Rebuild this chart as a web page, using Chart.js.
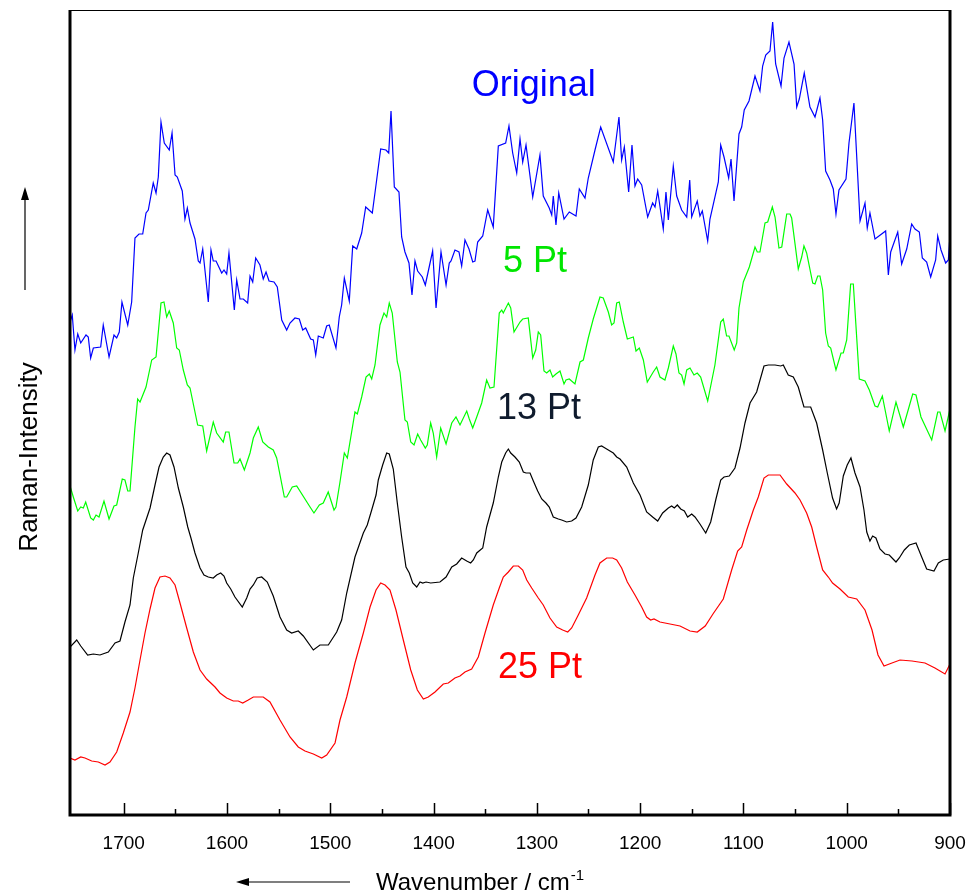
<!DOCTYPE html>
<html>
<head>
<meta charset="utf-8">
<script src="https://cdn.jsdelivr.net/npm/chart.js@4.4.0/dist/chart.umd.min.js"></script>
<style>
  html, body { margin: 0; padding: 0; background: #fff; }
</style>
</head>
<body>
<canvas id="raman" width="978" height="893"></canvas>
<script>
// Raman spectrum, raw and after 5 / 13 / 25 point smoothing (intensities offset, arbitrary units)
const originalWn = [1752,1749.8,1747.2,1744.5,1741.6,1736.5,1734.3,1732,1729.4,1722.3,
  1719.8,1714.2,1709.4,1706.8,1704.3,1701.7,1696.1,1692.3,1689.1,1685.2,
  1681.6,1678.4,1676.2,1671.4,1668.7,1666.5,1663.9,1660.7,1655.9,1653.2,
  1650.3,1648.1,1643.3,1640.7,1638.4,1635.8,1631,1627.8,1626.1,1623.5,
  1618.1,1615.5,1613.3,1610.6,1605.1,1602.9,1600.3,1598.1,1592.9,1590.6,
  1587.4,1584.2,1580,1577.7,1575.1,1572.2,1568.1,1564.9,1562.2,1559.3,
  1554.5,1551.3,1547,1542.2,1539,1534.2,1530,1526.7,1523.8,1519,
  1516.4,1514.1,1511.6,1506.8,1503.5,1501,1494.5,1491.3,1489,1486.4,
  1481.6,1478.3,1474.4,1469.6,1465.7,1459.3,1455.1,1451.2,1446.1,1443.4,
  1441.2,1438,1433.5,1430.9,1427.7,1423.8,1420.9,1418,1415.4,1410.9,
  1408,1400.9,1397.6,1392.8,1387.9,1384.8,1383.1,1379.3,1375.4,1372.8,
  1369.6,1365.7,1362.1,1359.9,1357.3,1352.4,1347.6,1342.2,1337.3,1330.2,
  1327,1323.4,1319.5,1316.3,1313.7,1310.5,1304,1297,1293.8,1288,
  1285.6,1284.1,1281.5,1278.8,1273.7,1268.6,1262.1,1258.9,1253.4,1250.2,
  1243.7,1238.2,1226,1220.5,1217.9,1215.3,1211.1,1207.9,1205,1202.4,
  1198.5,1192.7,1187.9,1185.6,1183,1177.6,1175,1172.7,1167.9,1164.6,
  1159.8,1154.9,1152,1150.1,1144.7,1142.1,1139.8,1134.6,1132.4,1124.3,
  1122,1118.8,1114.3,1112,1109.1,1104.3,1101.7,1099.2,1094.6,1088.8,
  1084,1081.4,1078.4,1074.3,1071.7,1068.8,1063.6,1060.7,1055.9,1051,
  1048.4,1045.9,1041.1,1035.6,1030.7,1025.9,1023.3,1020.4,1016.2,1013,
  1010.4,1007.5,1000.7,997.8,993,987.1,982.3,980.1,977.5,972.6,
  962.3,959.7,957.4,950.6,946.8,941.9,937.1,933.9,929.7,926.8,
  922.6,918.7,913.9,911.9,908.7,904.2,901.6,900];
const originalInt = [493,500,465,481,472,480,478,457,467,468,
  490,458,480,477,483,513,490,513,577,581,
  581,602,605,632,622,638,693,672,665,682,
  640,638,624,596,607,592,576,554,552,566,
  513,565,554,554,542,545,541,562,505,535,
  516,516,512,539,533,557,550,536,543,534,
  533,528,495,485,492,497,496,485,487,476,
  475,460,479,477,489,490,467,498,510,537,
  514,569,566,582,608,602,635,666,665,662,
  704,628,623,578,563,552,520,554,544,538,
  530,564,507,563,530,552,554,565,563,549,
  575,566,553,554,573,579,605,588,669,672,
  689,662,642,676,653,670,618,660,619,607,
  600,619,590,622,596,603,599,626,617,637,
  665,688,653,698,655,668,623,670,629,636,
  630,598,612,608,624,586,623,595,649,619,
  605,598,635,598,614,599,604,574,596,633,
  670,658,637,656,614,681,688,705,714,739,
  724,749,760,764,793,751,729,757,773,751,
  708,716,742,708,698,717,695,644,635,626,
  601,625,636,672,712,594,612,587,602,576,
  584,540,563,583,551,566,591,586,583,557,
  553,538,555,579,565,552,555,580];

const pt5Wn = [1752,1748.8,1744.5,1741.6,1739.1,1736.8,1732,1729.4,1726.8,1723.9,
  1719.1,1714.2,1709.4,1706.8,1701.4,1698.8,1696.1,1693.9,1689.1,1686.5,
  1684.2,1678.4,1672.9,1668.7,1663.9,1661,1658.4,1655.9,1652,1648.7,
  1646.2,1642.3,1638.4,1635.8,1628.4,1623.5,1619.7,1613.3,1610,1603.6,
  1601.3,1598.1,1593.2,1589.6,1587.4,1583.2,1577.7,1574.5,1569.7,1565.4,
  1560,1555.2,1551.9,1544.5,1542.2,1536.8,1532.5,1519.6,1515.8,1510.6,
  1506.8,1502,1496.4,1494.5,1490.6,1486.4,1483.5,1476.1,1473.8,1469.6,
  1465.4,1462.2,1459.9,1456.7,1451.9,1448,1445.4,1442.9,1440,1435.1,
  1432.5,1427.7,1425.4,1422.1,1418.9,1415.4,1412.5,1408,1406.1,1402.8,
  1400.3,1397,1393.1,1387.9,1382.4,1378.3,1374.4,1367.9,1365.4,1362.1,
  1358.2,1353.4,1348.6,1345.4,1341.5,1336.4,1334,1332.5,1327.6,1325.3,
  1322.1,1316.3,1313.7,1308.3,1304,1301.1,1298.6,1296.3,1293.1,1290.5,
  1287.3,1284.7,1281.5,1277.6,1273.7,1271.8,1268.6,1263.1,1258.2,1255,
  1250.2,1245.4,1238.9,1235.7,1230.8,1227.6,1225.3,1222.7,1220.2,1216.3,
  1212.4,1206.6,1204,1200.8,1196.9,1193.1,1187.3,1184,1180.8,1176,
  1172.7,1167.9,1165.3,1162.4,1159.8,1157.5,1154.9,1151.7,1147.9,1144.7,
  1141.4,1134.6,1127.6,1122,1119.5,1116.3,1114,1108.9,1106.5,1104.3,
  1100.1,1094.3,1088.8,1086.6,1084,1079.1,1076.5,1072,1069.4,1065.6,
  1062.9,1058.1,1054.9,1053.3,1046.9,1043.6,1041.4,1038.8,1032.9,1030.7,
  1028.1,1025.9,1023.3,1020.4,1017.8,1015.5,1010.4,1005.5,1003.3,1000,
  996.2,993.6,987.8,982.3,978.1,972.6,970,965.5,958.8,952.3,
  945.2,936.1,932.9,928.1,917.7,911.9,909.7,904.8,900];
const pt5Int = [329,318,304,308,307,313,297,295,300,298,
  314,296,309,310,336,335,324,324,388,416,
  413,428,455,458,512,513,498,504,492,467,
  465,445,430,427,390,389,364,393,382,373,
  383,383,352,352,356,345,362,377,388,373,
  368,365,357,318,318,328,329,308,302,310,
  312,323,305,308,333,362,357,403,401,418,
  438,441,436,450,490,502,498,512,502,453,
  443,395,393,373,370,381,375,367,370,392,
  382,358,387,371,392,398,390,404,396,387,
  398,412,435,427,428,502,505,502,512,507,
  483,493,496,497,457,465,483,480,444,442,
  445,438,441,444,431,435,436,431,453,455,
  477,496,518,517,503,490,492,512,513,493,
  476,478,464,467,455,433,443,448,438,435,
  447,469,461,442,440,431,445,447,440,442,
  438,414,450,493,496,479,479,465,472,507,
  533,548,568,563,563,592,593,608,598,567,
  568,601,601,597,546,558,569,562,532,531,
  539,539,525,482,469,467,445,462,462,475,
  531,531,436,434,425,409,408,419,384,413,
  388,421,420,398,375,403,403,384,406];

const pt13Wn = [1752,1745.5,1741.6,1734.9,1729.4,1723,1714.9,1708.4,1703.6,1698.8,
  1693.9,1690.7,1685.9,1681.6,1674.5,1669.7,1665.8,1661.7,1658.4,1655.2,
  1651.3,1647.1,1642.3,1638,1634.9,1631,1626.1,1622.3,1618.1,1613.3,
  1610,1606.1,1602.9,1600.3,1596.4,1592.3,1585.2,1580.9,1577.7,1574.5,
  1570.7,1566.4,1561,1555.2,1548.7,1542.2,1537.4,1531,1526.1,1516.4,
  1510,1501.9,1493.8,1489,1484.1,1476.1,1468,1464.2,1459.9,1455.7,
  1453.5,1449.3,1445.4,1442.9,1439,1435.1,1430.9,1426.7,1423.5,1420.2,
  1416.3,1413.1,1410.5,1407.3,1402.8,1393.8,1387.9,1382.4,1377.6,1372.8,
  1367.9,1364.1,1361.5,1358.2,1352.4,1348.6,1342.2,1337.3,1334,1330.2,
  1327.6,1325.3,1321.2,1317,1313.1,1310.5,1306.6,1303.4,1299.2,1295.3,
  1291.2,1288,1284.1,1279.2,1276,1271.1,1266.3,1262.1,1256.6,1250.2,
  1245.4,1240.5,1237.3,1234,1229.2,1226,1222.7,1219.5,1213,1206.6,
  1200.1,1193.7,1187.9,1183,1178.2,1172.7,1169.5,1166.9,1164,1160.7,
  1157.2,1154,1150.1,1146.9,1142.1,1136.5,1131.7,1126.6,1122,1118.8,
  1113.7,1108.2,1103.3,1098.5,1093.6,1087.2,1080.1,1075.9,1069.4,1063.9,
  1061.4,1056.6,1051.7,1046.9,1041.4,1034.9,1029.1,1023.3,1018.8,1013.7,
  1009.8,1007.3,1003.3,999.5,995.9,992,987.1,983.3,980.6,977.5,
  974.9,971.7,967.8,962.9,958.8,952.3,949.1,944.2,939.4,932.9,
  927.4,922.6,915.5,911.3,906.5,900];
const pt13Int = [168,175,169,160,161,160,163,172,174,193,
  210,237,262,285,307,330,348,358,362,360,
  348,327,308,288,277,262,247,240,238,237,
  240,242,239,232,226,218,208,217,226,230,
  237,238,233,219,198,185,182,184,179,165,
  170,170,183,195,222,258,282,290,305,320,
  335,350,362,361,346,312,278,248,242,232,
  228,233,232,233,232,233,238,248,251,257,
  254,252,255,262,267,288,312,338,353,362,
  366,362,358,353,343,342,342,334,324,316,
  312,308,298,296,295,293,294,297,308,330,
  355,368,369,367,364,362,358,356,348,332,
  320,303,298,294,302,307,309,307,310,306,
  304,298,301,298,291,282,293,316,335,338,
  339,347,367,392,412,423,449,450,450,449,
  450,440,438,428,408,408,392,365,342,317,
  306,312,339,350,357,342,328,305,283,274,
  279,277,266,261,260,253,257,265,270,272,
  258,246,244,252,255,256];

const pt25Wn = [1752,1747.2,1741.6,1737.5,1731,1724.6,1718.1,1713.3,1706.8,1700.4,
  1693.9,1689.1,1684.2,1679.4,1674.5,1669.7,1664.9,1660,1655.2,1650.3,
  1645.5,1639,1632.6,1626.1,1619.7,1611.6,1606.8,1600.3,1593.9,1589.1,
  1584.8,1579.4,1574.5,1564.9,1558.4,1548.7,1539,1531,1524.5,1516.4,
  1508.3,1503.5,1495.4,1490.6,1484.1,1476.1,1468,1461.5,1455.7,1451.2,
  1447,1442.2,1436.4,1429.3,1422.1,1415.7,1409.9,1405.1,1398.6,1390.6,
  1385.7,1379.3,1374.4,1369.6,1363.1,1356.7,1350.2,1342.2,1336.4,1332.5,
  1327.6,1322.8,1317.9,1313.7,1309.8,1305,1298.6,1293.8,1287.3,1280.8,
  1275,1270.1,1266.3,1259.9,1251.8,1243.7,1238.9,1232.4,1226.6,1222.7,
  1217.9,1212.4,1205,1198.5,1193.7,1189.8,1186.6,1180.8,1171.1,1161.4,
  1151.7,1144.7,1137,1129.5,1119.5,1111.4,1105.6,1101.7,1096.8,1090.4,
  1085.6,1080.1,1075.9,1064.6,1058.1,1050.1,1045.2,1038.8,1033.9,1029.1,
  1023.3,1017.8,1013.7,1006.5,998.5,990.3,982.3,975.5,969.7,963.9,
  956.2,948.4,936.8,924.2,914.6,904.8,900];
const pt25Int = [57,55,58,57,54,53,50,53,63,82,
  103,127,155,182,206,227,238,239,237,230,
  212,187,163,145,136,128,122,117,114,114,
  112,115,118,118,113,95,78,68,64,61,
  57,60,72,95,118,152,182,208,225,232,
  230,225,205,175,145,125,116,118,123,131,
  132,137,139,143,146,158,182,210,227,238,
  243,249,249,245,235,227,217,210,197,188,
  185,183,187,200,217,240,252,257,257,255,
  247,233,220,208,198,195,196,193,191,189,
  184,183,189,201,216,245,264,268,285,305,
  318,337,340,340,331,322,315,302,288,268,
  245,238,232,226,218,216,205,185,160,149,
  152,155,154,152,147,141,151];

// axis ticks
const majorTicks = [1700, 1600, 1500, 1400, 1300, 1200, 1100, 1000, 900];
const minorTicks = [1650, 1550, 1450, 1350, 1250, 1150, 1050, 950];

// curve labels, anchored in data coordinates (left edge, baseline)
const noteText = ['Original', '5 Pt', '13 Pt', '25 Pt'];
const noteWn = [1363, 1332.8, 1338.6, 1337.6];
const noteInt = [719, 543, 396, 137];
const noteColor = ['#0000ff', '#00e600', '#0f1b2d', '#ff0000'];

const FONT = '"Liberation Sans", Arial, Helvetica, sans-serif';

const toXY = (wn, val) => wn.map((w, i) => ({ x: w, y: val[i] }));

function arrow(ctx, x0, y0, x1, y1) {
  const ang = Math.atan2(y1 - y0, x1 - x0);
  const head = 13, half = 4;
  const bx = x1 - head * Math.cos(ang), by = y1 - head * Math.sin(ang);
  ctx.beginPath();
  ctx.moveTo(x0, y0);
  ctx.lineTo(bx, by);
  ctx.stroke();
  ctx.beginPath();
  ctx.moveTo(x1, y1);
  ctx.lineTo(bx + half * Math.sin(ang), by - half * Math.cos(ang));
  ctx.lineTo(bx - half * Math.sin(ang), by + half * Math.cos(ang));
  ctx.closePath();
  ctx.fill();
}

const frameAndNotes = {
  id: 'frameAndNotes',
  afterDatasetsDraw(chart) {
    const { ctx, chartArea: a, scales: { x, y } } = chart;
    ctx.save();
    ctx.strokeStyle = '#000';
    ctx.fillStyle = '#000';

    // box: thin top, heavy left/bottom/right
    ctx.lineWidth = 1;
    ctx.beginPath();
    ctx.moveTo(a.left, a.top + 0.5);
    ctx.lineTo(a.right, a.top + 0.5);
    ctx.stroke();
    ctx.lineWidth = 3;
    ctx.beginPath();
    ctx.moveTo(a.left, a.top);
    ctx.lineTo(a.left, a.bottom);
    ctx.lineTo(a.right, a.bottom);
    ctx.lineTo(a.right, a.top);
    ctx.stroke();

    // inward tick marks
    ctx.lineWidth = 1.5;
    ctx.beginPath();
    majorTicks.forEach(v => {
      const px = Math.round(x.getPixelForValue(v)) + 0.5;
      ctx.moveTo(px, a.bottom);
      ctx.lineTo(px, a.bottom - 12);
    });
    minorTicks.forEach(v => {
      const px = Math.round(x.getPixelForValue(v)) + 0.5;
      ctx.moveTo(px, a.bottom);
      ctx.lineTo(px, a.bottom - 6);
    });
    ctx.stroke();

    // curve labels
    ctx.font = '36px ' + FONT;
    ctx.textAlign = 'left';
    ctx.textBaseline = 'alphabetic';
    noteText.forEach((t, i) => {
      ctx.fillStyle = noteColor[i];
      ctx.fillText(t, x.getPixelForValue(noteWn[i]), y.getPixelForValue(noteInt[i]));
    });

    // y title with upward arrow
    ctx.fillStyle = '#000';
    ctx.save();
    ctx.translate(37, 457);
    ctx.rotate(-Math.PI / 2);
    ctx.font = '26px ' + FONT;
    ctx.textAlign = 'center';
    ctx.fillText('Raman-Intensity', 0, 0);
    ctx.restore();
    ctx.lineWidth = 1.2;
    arrow(ctx, 25, 290, 25, 187);

    // x title with superscript and leftward arrow
    ctx.font = '24px ' + FONT;
    ctx.textAlign = 'left';
    const base = 'Wavenumber / cm';
    const tx = 376, ty = 890;
    ctx.fillText(base, tx, ty);
    const w = ctx.measureText(base).width;
    ctx.font = '15px ' + FONT;
    ctx.fillText('-1', tx + w + 1, ty - 10);
    arrow(ctx, 350, 882, 236, 882);

    ctx.restore();
  }
};

new Chart(document.getElementById('raman'), {
  type: 'line',
  data: {
    datasets: [
      { label: 'Original', data: toXY(originalWn, originalInt), borderColor: '#0000ff' },
      { label: '5 Pt', data: toXY(pt5Wn, pt5Int), borderColor: '#00ff00' },
      { label: '13 Pt', data: toXY(pt13Wn, pt13Int), borderColor: '#000000' },
      { label: '25 Pt', data: toXY(pt25Wn, pt25Int), borderColor: '#ff0000' }
    ]
  },
  options: {
    responsive: false,
    animation: false,
    devicePixelRatio: 1,
    layout: { autoPadding: false, padding: { left: 70, right: 28, top: 10, bottom: 0 } },
    elements: {
      point: { radius: 0 },
      line: { borderWidth: 1.2, tension: 0, fill: false }
    },
    plugins: {
      legend: { display: false },
      tooltip: { enabled: false }
    },
    scales: {
      x: {
        type: 'linear',
        reverse: true,
        min: 900,
        max: 1752,
        afterFit: s => {
          s.height = 78;
          s.paddingLeft = 0;
          s.paddingRight = 0;
        },
        afterBuildTicks: s => { s.ticks = majorTicks.map(v => ({ value: v })); },
        grid: { display: false, drawTicks: false },
        border: { display: false },
        ticks: {
          padding: 17,
          autoSkip: false,
          maxRotation: 0,
          color: '#000',
          font: { family: FONT, size: 19 },
          callback: v => String(v)
        }
      },
      y: { display: false, min: 0, max: 805 }
    }
  },
  plugins: [frameAndNotes]
});
</script>
</body>
</html>
